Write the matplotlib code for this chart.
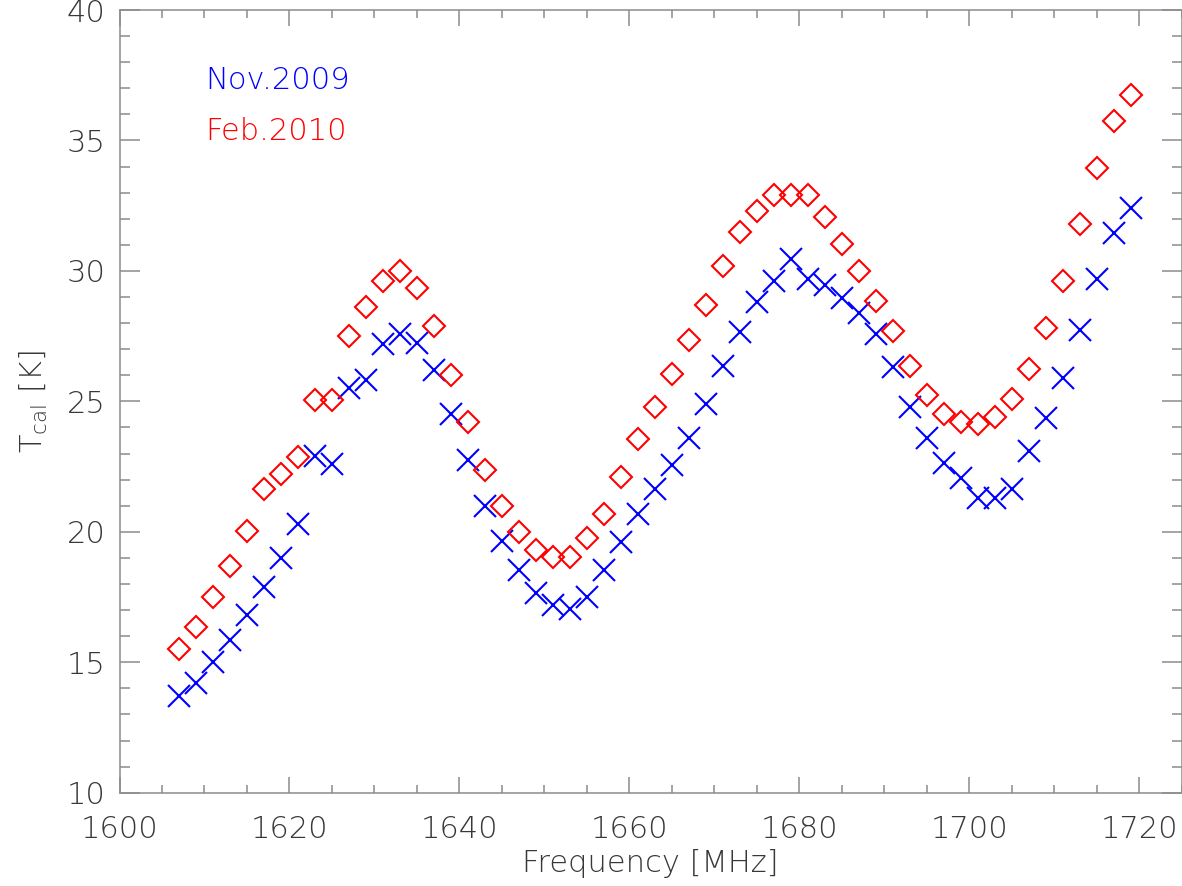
import numpy as np
import matplotlib
matplotlib.use("Agg")
import matplotlib.pyplot as plt
from matplotlib.ticker import MultipleLocator

plt.rcParams["font.family"] = ["DejaVu Sans"]
plt.rcParams["font.weight"] = "light"
plt.rcParams["axes.labelweight"] = "light"
plt.rcParams["mathtext.default"] = "regular"

# calibration temperature per channel, 2 MHz steps
freq = np.arange(1607, 1720, 2)

t_nov2009 = [
    13.7, 14.2, 15.0, 15.85, 16.8, 17.9, 19.0, 20.3, 22.9, 22.6,
    25.5, 25.8, 27.2, 27.6, 27.25, 26.2, 24.5, 22.75, 21.0, 19.65,
    18.55, 17.65, 17.2, 17.05, 17.5, 18.55, 19.6, 20.7, 21.65, 22.55,
    23.6, 24.9, 26.35, 27.65, 28.8, 29.6, 30.45, 29.7, 29.45, 28.95,
    28.4, 27.6, 26.3, 24.8, 23.6, 22.65, 22.05, 21.3, 21.3, 21.65,
    23.1, 24.35, 25.9, 27.75, 29.7, 31.45, 32.4,
]
t_feb2010 = [
    15.5, 16.35, 17.5, 18.7, 20.05, 21.65, 22.2, 22.85, 25.05, 25.05,
    27.5, 28.6, 29.6, 30.0, 29.35, 27.9, 26.0, 24.2, 22.35, 21.0,
    20.0, 19.3, 19.05, 19.05, 19.75, 20.7, 22.1, 23.55, 24.8, 26.05,
    27.35, 28.7, 30.2, 31.5, 32.3, 32.9, 32.9, 32.9, 32.05, 31.05,
    30.0, 28.85, 27.7, 26.35, 25.25, 24.5, 24.2, 24.15, 24.4, 25.1,
    26.25, 27.8, 29.6, 31.8, 33.95, 35.75, 36.75,
]

axis_grey = "#8c8c8c"
text_grey = "#383838"
fs = 22

fig = plt.figure(figsize=(11.82, 8.86), dpi=100)
ax = fig.add_axes([0.1011, 0.1053, 0.8985, 0.8834])

ax.plot(freq, t_nov2009, linestyle="none", marker="x", ms=16.5, mew=1.5,
        color="#0000ff")
ax.plot(freq, t_feb2010, linestyle="none", marker="D", ms=11.7, mew=1.5,
        mfc="none", mec="#ff0000")

ax.set_xlim(1600, 1725)
ax.set_ylim(10, 40)
ax.xaxis.set_major_locator(MultipleLocator(20))
ax.xaxis.set_minor_locator(MultipleLocator(5))
ax.yaxis.set_major_locator(MultipleLocator(5))
ax.yaxis.set_minor_locator(MultipleLocator(1))

for side in ax.spines.values():
    side.set_color(axis_grey)
    side.set_linewidth(1.1)

ax.tick_params(axis="both", which="both", direction="in", color=axis_grey,
               width=1.1, top=True, right=True, labelcolor=text_grey,
               labelsize=fs)
ax.tick_params(axis="x", which="major", length=11.5, pad=16)
ax.tick_params(axis="x", which="minor", length=5.8)
ax.tick_params(axis="y", which="major", length=14.4, pad=10)
ax.tick_params(axis="y", which="minor", length=7.2)

ax.set_xlabel("Frequency [MHz]", fontsize=fs, color=text_grey, labelpad=4)
ax.set_ylabel("T$_{cal}$ [K]", fontsize=fs, color=text_grey, labelpad=12)

ax.text(0.0805, 0.899, "Nov.2009", transform=ax.transAxes, color="#0000ff",
        fontsize=fs, va="baseline")
ax.text(0.0805, 0.834, "Feb.2010", transform=ax.transAxes, color="#ff0000",
        fontsize=fs, va="baseline")

fig.savefig("out.png", dpi=100)
